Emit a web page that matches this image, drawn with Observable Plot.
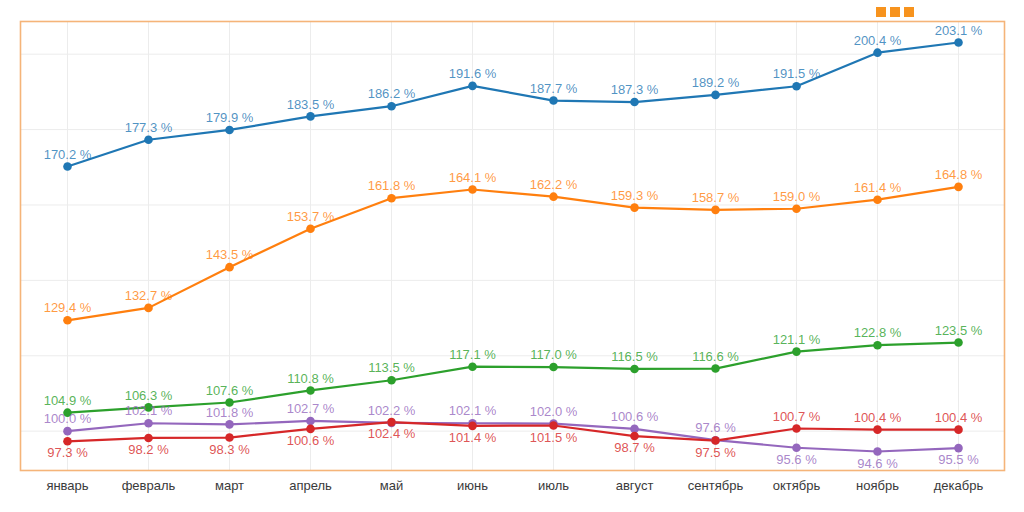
<!DOCTYPE html>
<html>
<head>
<meta charset="utf-8">
<script src="https://cdn.jsdelivr.net/npm/d3@7"></script>
<script src="https://cdn.jsdelivr.net/npm/@observablehq/plot@0.6"></script>
<style>
  html, body { margin: 0; padding: 0; background: #fff; }
  #wrap { position: relative; width: 1024px; height: 512px; overflow: hidden; }
  #logo { position: absolute; left: 876px; top: 7px; display: flex; gap: 4px; }
  #logo span { display: block; width: 10px; height: 10px; background: #f7931e; }
</style>
</head>
<body>
<div id="wrap">
  <div id="logo"><span></span><span></span><span></span></div>
  <div id="chart"></div>
</div>
<script>
const months = ["январь","февраль","март","апрель","май","июнь","июль","август","сентябрь","октябрь","ноябрь","декабрь"];
const blueValues   = [170.2,177.3,179.9,183.5,186.2,191.6,187.7,187.3,189.2,191.5,200.4,203.1];
const orangeValues = [129.4,132.7,143.5,153.7,161.8,164.1,162.2,159.3,158.7,159.0,161.4,164.8];
const greenValues  = [104.9,106.3,107.6,110.8,113.5,117.1,117.0,116.5,116.6,121.1,122.8,123.5];
const purpleValues = [100.0,102.1,101.8,102.7,102.2,102.1,102.0,100.6,97.6,95.6,94.6,95.5];
const redValues    = [97.3,98.2,98.3,100.6,102.4,101.4,101.5,98.7,97.5,100.7,100.4,100.4];
const gridTicks = [100,120,140,160,180,200];

const seriesList = [
  {name: "blue", color: "#1f77b4", values: blueValues},
  {name: "orange", color: "#ff7f0e", values: orangeValues},
  {name: "green", color: "#2ca02c", values: greenValues},
  {name: "purple", color: "#9467bd", values: purpleValues},
  {name: "red", color: "#d62728", values: redValues}
];

const rows = [];
for (const s of seriesList) {
  s.values.forEach((v, i) => {
    let above = true;
    if (s.name === "red") above = v > purpleValues[i] + 1;
    if (s.name === "purple") above = !(redValues[i] > v + 1);
    rows.push({series: s.name, color: s.color, month: months[i], value: v, above,
               label: v.toFixed(1) + " %"});
  });
}

const font = "'Liberation Sans', Arial, sans-serif";
const chart = Plot.plot({
  width: 1024,
  height: 512,
  marginLeft: 20,
  marginRight: 20,
  marginTop: 21,
  marginBottom: 42,
  style: {fontFamily: font, background: "transparent"},
  x: {type: "point", domain: months, padding: 0.554, label: null, axis: null},
  y: {domain: [89.56, 208.67], label: null, axis: null},
  marks: [
    Plot.gridX(months, {stroke: "#ececec", strokeOpacity: 1, strokeWidth: 1}),
    Plot.gridY(gridTicks, {stroke: "#ececec", strokeOpacity: 1, strokeWidth: 1}),
    Plot.frame({stroke: "#f5b479", strokeWidth: 1.6}),
    Plot.axisX({tickSize: 0, tickPadding: 10, fontSize: 13, fill: "#3a3a3a"}),
    Plot.line(rows, {x: "month", y: "value", z: "series", stroke: "color", strokeWidth: 2.2}),
    Plot.dot(rows, {x: "month", y: "value", fill: "color", r: 4.3, stroke: null}),
    Plot.text(rows.filter(d => d.above), {x: "month", y: "value", text: "label", fill: "color", fillOpacity: 0.8, fontSize: 13, dy: -12}),
    Plot.text(rows.filter(d => !d.above), {x: "month", y: "value", text: "label", fill: "color", fillOpacity: 0.8, fontSize: 13, dy: 12})
  ]
});
document.getElementById("chart").appendChild(chart);
</script>
</body>
</html>
